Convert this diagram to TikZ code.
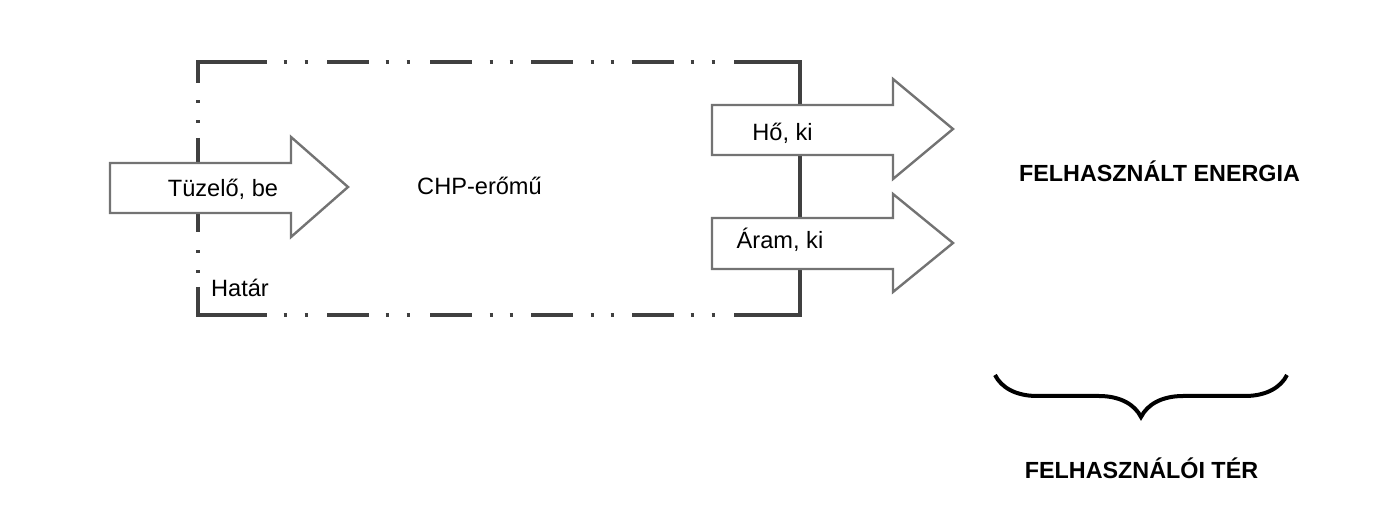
\documentclass[tikz,border=0pt]{standalone}
\usepackage{fontspec}
\setmainfont{Liberation Sans}
\usetikzlibrary{decorations.pathreplacing}
\begin{document}
\begin{tikzpicture}[x=0.75pt,y=-0.75pt,
  bnd/.style={line width=3pt, draw=black!75},
  flow/.style={draw=black!55, line width=1.8pt, fill=white, line join=miter},
  lbl/.style={font=\fontsize{17.7}{20}\selectfont, inner sep=0pt, anchor=base},
  big/.style={font=\fontsize{17.5}{20}\selectfont\bfseries, inner sep=0pt, anchor=base},
  bracestyle/.style={line width=3pt, decorate, decoration={brace, amplitude=31.5pt}}]
\useasboundingbox (0,0) rectangle (1385,516);
% boundary corners
\coordinate (tl) at (198,62);
\coordinate (bl) at (198,315);
\coordinate (tr) at (800,62);
\coordinate (br) at (800,315);
\draw[bnd] (198,83) -- (tl) -- (267,62);
\draw[bnd] (198,287) -- (bl) -- (267,315);
\draw[bnd] (734,62) -- (tr) -- (br) -- (734,315);
\foreach \x in {327,430,531,632} {
  \draw[bnd] (\x,62) -- ++(42,0);
  \draw[bnd] (\x,315) -- ++(42,0);
}
\foreach \x in {285,306,387,408,491,511,592,612,692,713} {
  \draw[bnd] (\x-1.5,62) -- ++(3,0);
  \draw[bnd] (\x-1.5,315) -- ++(3,0);
}
\draw[bnd] (198,138) -- (198,232);
\foreach \y in {102,122,252,272} {
  \draw[bnd] (198,\y-1.5) -- ++(0,3);
}
% flow arrows
\draw[flow] (110,163) -- (291,163) -- (291,137) -- (348,187) -- (291,237) -- (291,213) -- (110,213) -- cycle;
\draw[flow] (712,105) -- (893,105) -- (893,79) -- (953,129) -- (893,179) -- (893,155) -- (712,155) -- cycle;
\draw[flow] (712,218) -- (893,218) -- (893,194) -- (953,243) -- (893,292) -- (893,269) -- (712,269) -- cycle;
% labels
\node[lbl] (fuel) at (223,197) {Tüzelő, be};
\node[lbl] (chp) at (479.5,195) {CHP-erőmű};
\node[lbl] (heat) at (782.5,141) {Hő, ki};
\node[lbl] (power) at (780,249) {Áram, ki};
\node[lbl] (border) at (240,297) {Határ};
\node[big] (used) at (1159.5,182) {FELHASZNÁLT ENERGIA};
\node[big] (space) at (1141.5,478) {FELHASZNÁLÓI TÉR};
% brace
\coordinate (braceR) at (1287,375);
\coordinate (braceL) at (995,375);
\draw[bracestyle] (braceR) -- (braceL);
\end{tikzpicture}
\end{document}
